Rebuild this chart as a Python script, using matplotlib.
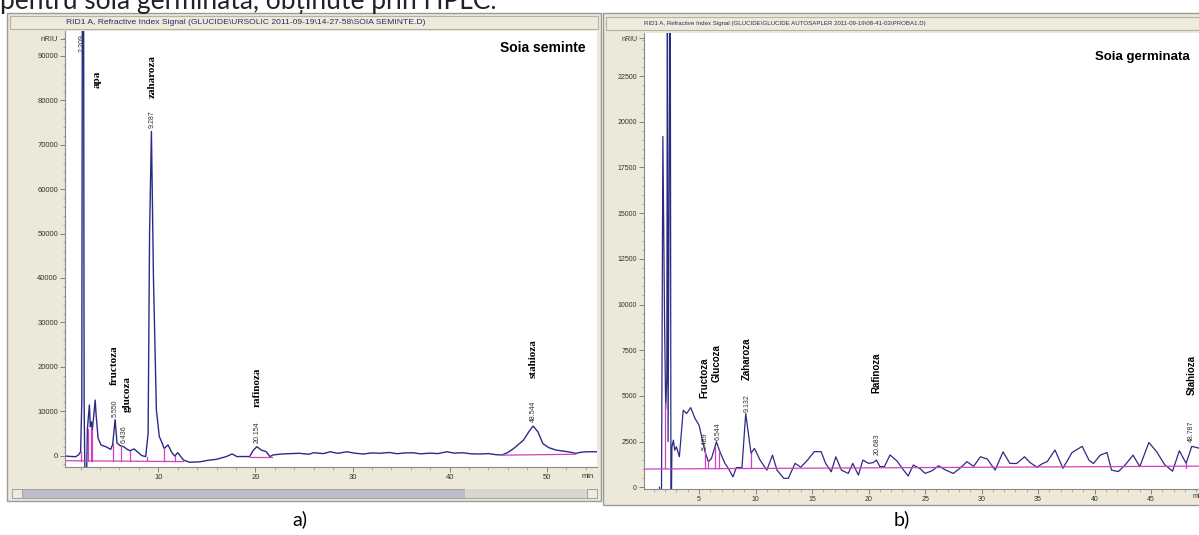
import matplotlib
matplotlib.use('Agg')
import matplotlib.pyplot as plt
from matplotlib.ticker import MultipleLocator
from matplotlib.patches import Rectangle

# ---- data ----
# a) Soia seminte
t_a = [0.4, 1.0, 1.5, 1.8, 2.0, 2.12, 2.18, 2.3, 2.36, 2.45, 2.6, 2.7, 2.9, 3.0, 3.1, 3.2,
       3.35, 3.5, 3.6, 3.8, 4.1, 4.6, 5.1, 5.3, 5.55, 5.75, 6.1, 6.44, 6.8, 7.1, 7.5, 7.9,
       8.3, 8.7, 8.95, 9.1, 9.29, 9.5, 9.8, 10.1, 10.4, 10.6, 11.0, 11.4, 11.7, 12.0, 12.6,
       13.2, 14.3, 15.0, 16.0, 17.0, 17.6, 18.1, 19.0, 19.4, 19.8, 20.15, 20.6, 21.1, 21.5,
       21.8, 22.8, 24.5, 25.5, 26.0, 27.0, 27.7, 28.5, 29.4, 30.2, 31.1, 32.0, 32.8, 33.8,
       34.6, 35.4, 36.2, 37.0, 38.0, 38.8, 39.7, 40.5, 41.3, 42.2, 43.1, 44.0, 44.8, 45.4,
       46.0, 46.6, 47.6, 48.2, 48.6, 49.1, 49.6, 50.2, 51.0, 52.2, 53.0, 53.5, 54.1, 55.2]
s_a = [-100, -200, -250, 200, 900, 12000, 110000, 110000, 12000, -6000, -6000, 6000, 11400,
       6500, 7600, 5800, 9000, 12500, 9000, 3900, 2400, 2000, 1400, 2500, 8100, 2800, 2200,
       2000, 1400, 1100, 1500, 750, 0, -230, 5000, 50000, 73000, 40000, 10300, 4300, 2800,
       1600, 2400, 650, -100, 650, -1000, -1500, -1400, -1100, -830, -230, 370, -230, -200,
       -230, 1260, 2000, 1260, 900, -230, 150, 370, 520, 300, 640, 450, 860, 500, 860, 550,
       360, 600, 520, 700, 420, 600, 640, 400, 550, 450, 860, 550, 650, 400, 360, 450, 200,
       140, 700, 1600, 3470, 5500, 6650, 5340, 2720, 1800, 1220, 860, 520, 750, 860, 860]
base_a = [([0.4, 12.6], [-1150, -1350]), ([19.4, 21.7], [-380, -380]), ([45.5, 53.0], [100, 300])]
drop_t_a = [2.05, 2.78, 3.02, 3.22, 5.3, 6.15, 7.05, 8.85, 10.6, 11.7]
drop_v_a = [900, 6000, 6500, 5800, 2500, 2200, 1100, -230, 1600, -100]

# b) Soia germinata
t_b = [1.5, 1.6, 1.68, 1.8, 1.95, 2.05, 2.15, 2.2, 2.26, 2.45, 2.52, 2.6, 2.73, 2.85, 3.0,
       3.26, 3.6, 3.9, 4.26, 4.65, 5.0, 5.4, 5.53, 5.83, 6.1, 6.54, 6.85, 7.3, 7.6, 8.0, 8.3,
       8.8, 9.13, 9.6, 9.9, 10.4, 11.0, 11.5, 11.9, 12.5, 12.9, 13.5, 14.0, 14.6, 15.2, 15.8,
       16.2, 16.7, 17.1, 17.6, 18.2, 18.6, 19.1, 19.5, 20.0, 20.4, 20.7, 21.0, 21.4, 21.9,
       22.5, 23.1, 23.5, 23.96, 24.6, 25.0, 25.6, 26.2, 26.8, 27.5, 28.1, 28.7, 29.3, 29.9,
       30.5, 31.2, 31.9, 32.5, 33.1, 33.8, 34.3, 34.9, 35.4, 35.8, 36.5, 37.2, 38.0, 38.9,
       39.5, 39.9, 40.5, 41.1, 41.5, 42.1, 42.7, 43.4, 44.0, 44.8, 45.5, 46.2, 46.9, 47.5,
       48.1, 48.6, 49.2, 49.8]
s_b = [0, -3000, 0, 19200, 9000, 4300, 6000, 30000, 2500, 30000, -3000, 2200, 2580, 2030,
       2220, 1670, 4220, 4040, 4360, 3760, 3400, 2310, 1940, 1400, 1580, 2490, 1940, 1300,
       1030, 570, 1080, 1080, 4040, 1860, 2130, 1490, 940, 1760, 940, 490, 490, 1310, 1100,
       1490, 1950, 1950, 1310, 850, 1670, 940, 760, 1310, 670, 1490, 1310, 1350, 1490, 1130,
       1130, 1770, 1450, 940, 620, 1220, 1000, 760, 900, 1180, 950, 760, 1050, 1400, 1150,
       1670, 1550, 940, 1940, 1310, 1300, 1670, 1350, 1100, 1300, 1400, 2040, 1040, 1900,
       2240, 1490, 1300, 1760, 1900, 940, 860, 1220, 1760, 1130, 2450, 1940, 1240, 880, 2000,
       1310, 2240, 2150, 2000]
base_b = ([0.13, 49.8], [1000, 1160])
drop_t_b = [2.0, 5.5, 5.8, 6.4, 6.75, 9.6, 48.1]
drop_v_b = [4600, 2000, 1450, 2200, 2000, 1860, 1310]

# labels: (text, x, y)
names_a = [('apa', 3.66, 82800), ('zaharoza', 9.35, 80500), ('fructoza', 5.44, 15900),
           ('glucoza', 6.78, 9800), ('rafinoza', 20.2, 10950), ('stahioza', 48.6, 17500)]
rt_a = [('2.209', 2.15, 90900), ('9.287', 9.35, 73800), ('5.550', 5.55, 8700),
        ('6.436', 6.47, 2800), ('20.154', 20.2, 2840), ('48.544', 48.6, 7570)]
names_b = [('Fructoza', 5.44, 4885), ('Glucoza', 6.57, 5760), ('Zaharoza', 9.22, 5870),
           ('Rafinoza', 20.73, 5160), ('Stahioza', 48.6, 5050)]
rt_b = [('5.489', 5.53, 2040), ('6.544', 6.71, 2590), ('9.132', 9.22, 4120),
        ('20.683', 20.73, 1770), ('48.787', 48.6, 2480)]

W, H = 1199, 535
BEIGE = '#ECE9D8'
LINE = '#2b2b85'
MAG = '#d040c0'

fig = plt.figure(figsize=(W / 100, H / 100), dpi=100)

def box(x0, y0, x1, y1):
    return [x0 / W, 1 - y1 / H, (x1 - x0) / W, (y1 - y0) / H]

bg = fig.add_axes([0, 0, 1, 1])
bg.set_xlim(0, W)
bg.set_ylim(H, 0)
bg.axis('off')

def rect(x0, y0, x1, y1, fc, ec='none', lw=0.8):
    bg.add_patch(Rectangle((x0, y0), x1 - x0, y1 - y0, facecolor=fc, edgecolor=ec, linewidth=lw))

# window frames
rect(7, 13, 601, 501, BEIGE, '#9a9a9a', 1.0)
rect(10, 16, 598, 29, '#EEEBDD', '#b5b2a5')
rect(12, 489, 597, 498, '#BDBACB', '#9a98a8', 0.6)
rect(465, 489, 587, 498, '#D9D6CE', 'none')
rect(12, 489, 22, 498, '#EEEBE2', '#9a98a8', 0.6)
rect(587, 489, 597, 498, '#EEEBE2', '#9a98a8', 0.6)
rect(603, 13, 1205, 505, BEIGE, '#9a9a9a', 1.0)
rect(606, 17, 1205, 30, '#EEEBDD', '#b5b2a5')

# caption of the page, cut by the top edge as in the scan
bg.text(0, 9, 'pentru soia germinată, obținute prin HPLC.', fontsize=19,
        family=['Lato', 'DejaVu Sans'], va='baseline', color='#222222')
bg.text(300, 519, 'a)', fontsize=14, family='Lato', ha='center', va='center')
bg.text(902, 519, 'b)', fontsize=14, family='Lato', ha='center', va='center')
bg.text(66, 22.5, 'RID1 A, Refractive Index Signal (GLUCIDE\\URSOLIC 2011-09-19\\14-27-58\\SOIA SEMINTE.D)',
        fontsize=6.1, family='Liberation Sans', color='#2a2a60', va='center')
bg.text(644, 23.5, 'RID1 A, Refractive Index Signal (GLUCIDE\\GLUCIDE AUTOSAPLER 2011-09-19\\08-41-03\\PROBA1.D)',
        fontsize=4.4, family='Liberation Sans', color='#2a2a60', va='center')
bg.text(582, 477, 'min', fontsize=5.5, family='Liberation Sans', va='center', color='#333333')
bg.text(1193, 497, 'min', fontsize=5, family='Liberation Sans', va='center', color='#333333')

def style(ax, lab):
    for s in ['top', 'right']:
        ax.spines[s].set_visible(False)
    for s in ['left', 'bottom']:
        ax.spines[s].set_color('#8a8a8a')
        ax.spines[s].set_linewidth(0.8)
    ax.tick_params(which='major', length=3.5, width=0.6, color='#707070', pad=1.5,
                   labelsize=lab, labelcolor='#333333', labelfontfamily='Liberation Sans')
    ax.tick_params(which='minor', length=1.8, width=0.5, color='#909090')

# a)
ax1 = fig.add_axes(box(65, 31, 597, 467))
ax1.plot(t_a, s_a, color=LINE, lw=1.0)
for bx, by in base_a:
    ax1.plot(bx, by, color=MAG, lw=0.9)
for t, v in zip(drop_t_a, drop_v_a):
    ax1.plot([t, t], [-1250, v], color=MAG, lw=0.9)
ax1.set_xlim(0.39, 55.18)
ax1.set_ylim(-2570, 95630)
ax1.xaxis.set_major_locator(MultipleLocator(10))
ax1.xaxis.set_minor_locator(MultipleLocator(2))
ax1.set_yticks(list(range(0, 90001, 10000)) + [93830],
               [str(v) for v in range(0, 90001, 10000)] + ['nRIU'])
ax1.yaxis.set_minor_locator(MultipleLocator(2000))
style(ax1, 5.5)
for txt, x, y in names_a:
    ax1.text(x, y, txt, rotation=90, ha='center', va='bottom', fontsize=8,
             family='Liberation Serif', fontweight='bold')
for txt, x, y in rt_a:
    ax1.text(x, y, txt, rotation=90, ha='center', va='bottom', fontsize=5,
             family='Liberation Sans', color='#333333', clip_on=False)
ax1.text(54.0, 91800, 'Soia seminte', ha='right', va='center', fontsize=10,
         family='Liberation Sans', fontweight='bold')

# b)
ax2 = fig.add_axes(box(644, 33, 1205, 489))
ax2.plot(t_b, s_b, color=LINE, lw=0.9)
ax2.plot(base_b[0], base_b[1], color=MAG, lw=0.9)
for t, v in zip(drop_t_b, drop_v_b):
    ax2.plot([t, t], [1050, v], color=MAG, lw=0.9)
ax2.set_xlim(0.13, 49.77)
ax2.set_ylim(-93, 24860)
ax2.xaxis.set_major_locator(MultipleLocator(5))
ax2.xaxis.set_minor_locator(MultipleLocator(1))
ax2.set_yticks(list(range(0, 22501, 2500)) + [24580],
               [str(v) for v in range(0, 22501, 2500)] + ['nRIU'])
ax2.yaxis.set_minor_locator(MultipleLocator(500))
style(ax2, 5)
for txt, x, y in names_b:
    ax2.text(x, y, txt, rotation=90, ha='center', va='bottom', fontsize=7,
             family='Liberation Sans', fontweight='bold')
for txt, x, y in rt_b:
    ax2.text(x, y, txt, rotation=90, ha='center', va='bottom', fontsize=5,
             family='Liberation Sans', color='#333333')
ax2.text(48.45, 23540, 'Soia germinata', ha='right', va='center', fontsize=9.5,
         family='Liberation Sans', fontweight='bold')

fig.savefig('out.png', dpi=100)
